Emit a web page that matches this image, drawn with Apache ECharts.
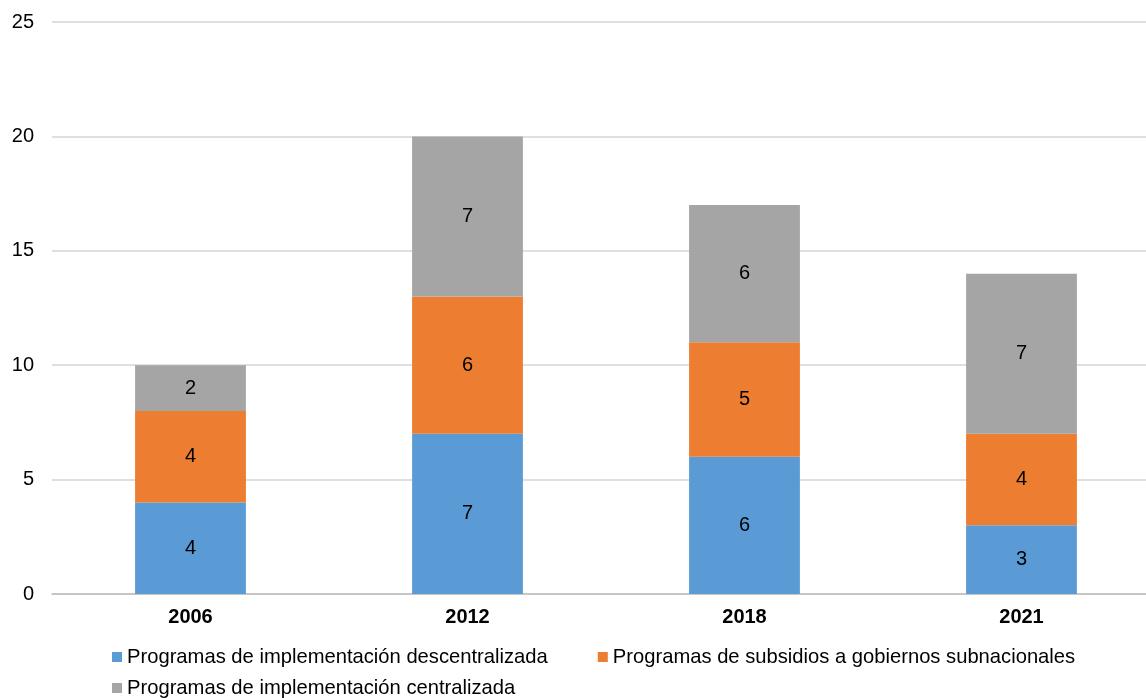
<!DOCTYPE html>
<html>
<head>
<meta charset="utf-8">
<title>Programas por año</title>
<script src="https://cdn.jsdelivr.net/npm/echarts@6/dist/echarts.min.js"></script>
<style>
    html, body { margin: 0; padding: 0; background: #ffffff; overflow: hidden; }
    /* the plot runs a little past the right edge of the picture, as in the original */
    #stacked-bar { width: 1160px; height: 698px; }
</style>
</head>
<body>
<div id="stacked-bar"></div>
<script>
var years = ['2006', '2012', '2018', '2021'];
var seriesNames = [
    'Programas de implementación descentralizada',
    'Programas de subsidios a gobiernos subnacionales',
    'Programas de implementación centralizada'
];
var descentralizada = [4, 7, 6, 3];
var subsidios = [4, 6, 5, 4];
var centralizada = [2, 7, 6, 7];
var yTicks = { min: 0, max: 25, interval: 5 };

(function (echarts) {
    var chartElement = document.getElementById('stacked-bar');
    if (!chartElement) {
        console.error('Chart container not found.');
        return;
    }
    var font = '"Liberation Sans", Arial, sans-serif';
    var colors = ['#5b9bd5', '#ed7d31', '#a5a5a5'];
    var values = [descentralizada, subsidios, centralizada];

    var legendStyle = {
        orient: 'horizontal',
        left: 112,
        padding: 0,
        itemWidth: 10,
        itemHeight: 10,
        itemGap: 50,
        icon: 'rect',
        textStyle: { fontFamily: font, fontSize: 20.2, color: '#000000' }
    };

    var chart = echarts.init(chartElement);
    var option = {
        animation: false,
        color: colors,
        textStyle: { fontFamily: font },
        legend: [
            Object.assign({}, legendStyle, { top: 647, data: [seriesNames[0], seriesNames[1]] }),
            Object.assign({}, legendStyle, { top: 678, data: [seriesNames[2]] })
        ],
        grid: { left: 52, top: 22, right: 0, bottom: 104, containLabel: false },
        xAxis: {
            type: 'category',
            data: years,
            axisTick: { show: false },
            axisLine: { lineStyle: { color: '#bfbfbf', width: 1.5 } },
            axisLabel: {
                margin: 13,
                fontFamily: font,
                fontSize: 20,
                fontWeight: 'bold',
                color: '#000000'
            }
        },
        yAxis: {
            type: 'value',
            min: yTicks.min,
            max: yTicks.max,
            interval: yTicks.interval,
            axisLine: { show: false },
            axisTick: { show: false },
            splitLine: { lineStyle: { color: '#d4d4d4', width: 1.5 } },
            axisLabel: {
                margin: 18,
                fontFamily: font,
                fontSize: 20,
                color: '#000000'
            }
        },
        series: seriesNames.map(function (name, i) {
            return {
                name: name,
                type: 'bar',
                stack: 'total',
                barWidth: '40%',
                data: values[i],
                label: {
                    show: true,
                    position: 'inside',
                    fontFamily: font,
                    fontSize: 20,
                    color: '#000000'
                }
            };
        })
    };
    chart.setOption(option);
    window.addEventListener('resize', function () {
        chart.resize();
    });
})(echarts);
</script>
</body>
</html>
